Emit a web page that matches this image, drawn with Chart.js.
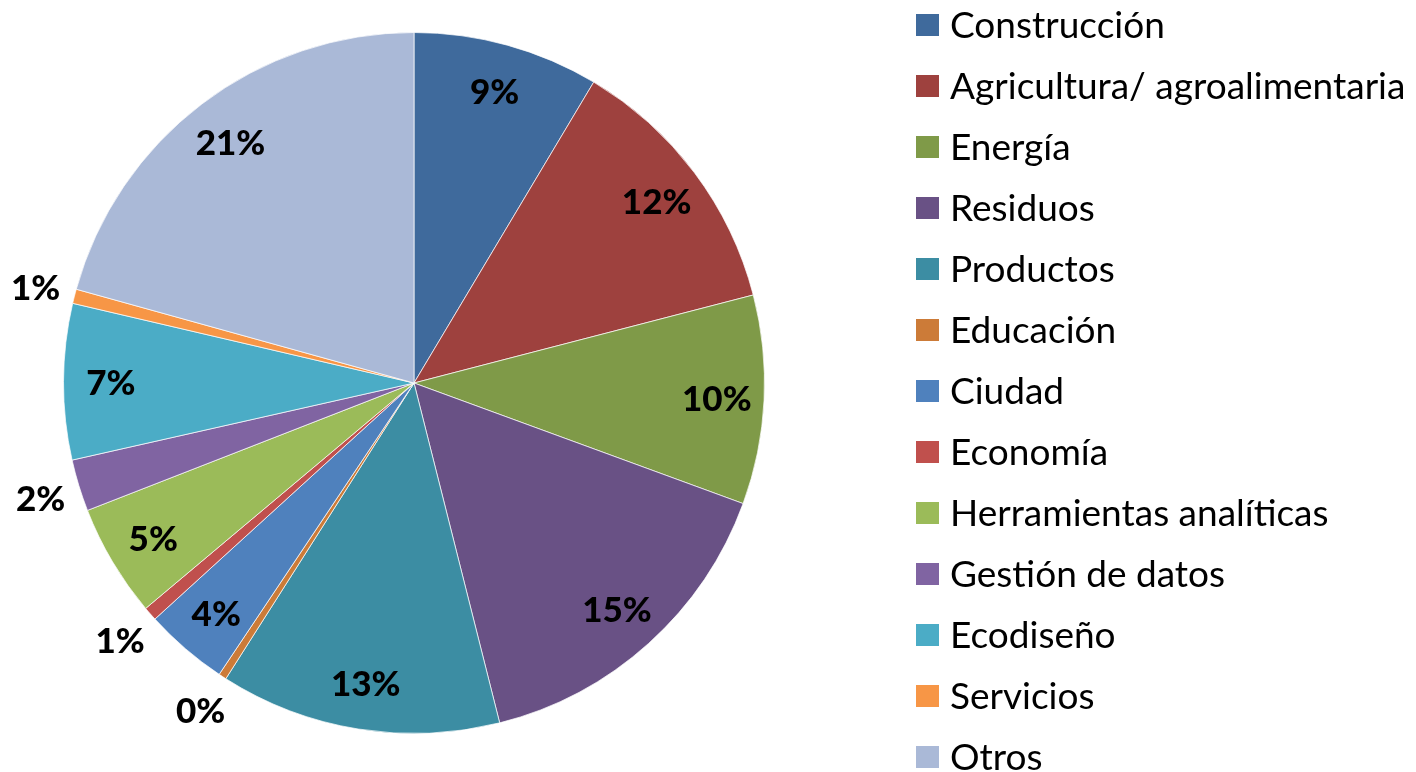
<!DOCTYPE html>
<html>
<head>
<meta charset="utf-8">
<script src="https://cdn.jsdelivr.net/npm/chart.js@4/dist/chart.umd.min.js"></script>
<style>
  html, body { margin: 0; padding: 0; background: #ffffff; }
  #wrap { width: 1416px; height: 772px; }
</style>
</head>
<body>
<div id="wrap"><canvas id="c" width="1416" height="772"></canvas></div>
<script>
const categories = [
  "Construcción", "Agricultura/ agroalimentaria", "Energía", "Residuos", "Productos",
  "Educación", "Ciudad", "Economía", "Herramientas analíticas", "Gestión de datos",
  "Ecodiseño", "Servicios", "Otros"
];
const shares = [8.57, 12.39, 9.63, 15.48, 12.95, 0.36, 3.86, 0.64, 5.20, 2.39, 7.18, 0.66, 20.69];
const colors = [
  "#3F6A9C", "#9E413E", "#7F9A48", "#695185", "#3C8DA3", "#CC7B38",
  "#4F81BD", "#C0504D", "#9BBB59", "#8064A2", "#4BACC6", "#F79646", "#AAB9D7"
];

const labelPlugin = {
  id: "sliceLabels",
  afterDatasetsDraw(chart) {
    const ctx = chart.ctx;
    const meta = chart.getDatasetMeta(0);
    const total = shares.reduce((a, b) => a + b, 0);
    ctx.save();
    ctx.fillStyle = "#000000";
    ctx.font = "900 35px Lato";
    ctx.textAlign = "center";
    ctx.textBaseline = "middle";
    meta.data.forEach((arc, i) => {
      const pct = shares[i] / total * 100;
      const mid = (arc.startAngle + arc.endAngle) / 2;
      const R = arc.outerRadius;
      const r = pct < 3 ? R + 40 : R * 0.865;
      const x = arc.x + r * Math.cos(mid);
      const y = arc.y + r * Math.sin(mid);
      ctx.fillText(Math.round(pct) + "%", x, y + 2);
    });
    ctx.restore();
  }
};

const legendPlugin = {
  id: "sideLegend",
  afterDraw(chart) {
    const ctx = chart.ctx;
    ctx.save();
    ctx.font = "37px Lato";
    ctx.textAlign = "left";
    ctx.textBaseline = "middle";
    categories.forEach((name, i) => {
      const cy = 25 + i * 61;
      ctx.fillStyle = colors[i];
      ctx.fillRect(916, cy - 11, 23, 22);
      ctx.fillStyle = "#000000";
      ctx.fillText(name, 950, cy + 1);
    });
    ctx.restore();
  }
};

new Chart(document.getElementById("c"), {
  type: "pie",
  data: {
    labels: categories,
    datasets: [{
      data: shares,
      backgroundColor: colors,
      borderColor: "rgba(255,255,255,0.7)",
      borderWidth: 1
    }]
  },
  options: {
    responsive: false,
    animation: false,
    layout: { padding: { left: 63, right: 651, top: 32, bottom: 38 } },
    plugins: { legend: { display: false }, tooltip: { enabled: false } }
  },
  plugins: [labelPlugin, legendPlugin]
});
</script>
</body>
</html>
